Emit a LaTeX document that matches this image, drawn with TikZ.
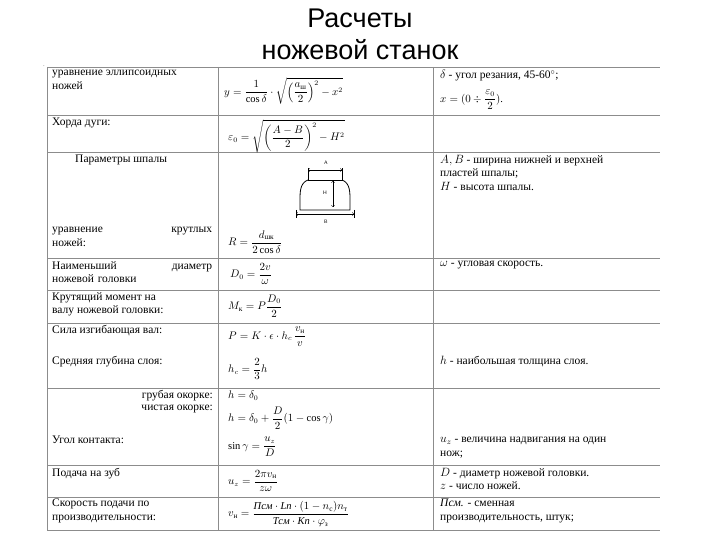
\documentclass[tikz,border=0pt]{standalone}
\usepackage{amsmath}
\usepackage{fontspec}
\setmainfont{Liberation Serif}
\newfontfamily\titlefont{Liberation Sans}
\begin{document}
\begin{tikzpicture}[x=1pt,y=-1pt,
  rule/.style={draw=black!45,line width=0.8pt},
  txt/.style={anchor=north west,inner sep=0pt,font=\fontsize{11.5}{13.5}\selectfont,align=left},
  fm/.style={anchor=west,inner sep=0pt,font=\fontsize{10.5}{12}\selectfont}]
\useasboundingbox (0,0) rectangle (720,540);
\node[font=\titlefont\fontsize{27}{32}\selectfont,align=center] (title) at (360,34) {Расчеты\\ножевой станок};
% grid
\foreach \y in {67,115,152,258,290,323,388,465,497,530} \draw[rule] (47,\y) -- (660,\y);
\foreach \x in {47,218,433} \draw[rule] (\x,67) -- (\x,530);
\node[font=\tiny] (mk) at (44,66) {.};
% row 1
\node[txt] (c11) at (52,70) {уравнение эллипсоидных\\ножей};
\node[fm] (f1) at (224,91) {$y=\dfrac{1}{\cos\delta}\cdot\sqrt{\left(\dfrac{a_{\text{ш}}}{2}\right)^{2}-x^{2}}$};
\node[txt] (c13) at (440,70) {$\delta$ - угол резания, 45-60$^\circ$;};
\node[fm] (c13b) at (440,100) {$x=(0\div\dfrac{\varepsilon_0}{2})$.};
% row 2
\node[txt] (c21) at (52,118) {Хорда дуги:};
\node[fm] (f2) at (228,136) {$\varepsilon_0=\sqrt{\left(\dfrac{A-B}{2}\right)^{2}-H^{2}}$};
% row 3
\node[txt] (c31) at (75,155) {Параметры шпалы};
\node[txt] (c33) at (440,155) {$A,B$ - ширина нижней и верхней\\пластей шпалы;\\$H$ - высота шпалы.};
\node[font=\sffamily\tiny] (lA) at (326,163) {A};
\draw[thick] (308,168) -- (308,180) -- (342,180) -- (342,168);
\draw[thin,<->] (308,170) -- (342,170);
\draw[thick] (308,180) to[out=200,in=90] (300,200) -- (300,210) -- (350,210) -- (350,200) to[out=90,in=-20] (342,180);
\draw[thin] (296,210) -- (296,218) (354,210) -- (354,218);
\draw[thin,<->] (296,214) -- (354,214);
\draw[thin,<->] (333,181) -- (333,207);
\node[font=\sffamily\tiny] (lH) at (325,193) {H};
\node[font=\sffamily\tiny] (lB) at (326,222) {B};
\node[txt,text width=160pt,align=justify] (c41) at (52,227) {уравнение \hfill крутлых\\ножей:};
\node[fm] (f4) at (228,242) {$R=\dfrac{d_{\text{шк}}}{2\cos\delta}$};
% row 5
\node[txt,text width=160pt] (c51) at (52,261) {Наименьший \hfill диаметр\\ножевой головки};
\node[fm] (f5) at (230,274) {$D_0=\dfrac{2v}{\omega}$};
\node[txt] (c53) at (440,261) {$\omega$ - угловая скорость.};
% row 6
\node[txt] (c61) at (52,292) {Крутящий момент на\\валу ножевой головки:};
\node[fm] (f6) at (228,306) {$M_{\text{к}}=P\dfrac{D_0}{2}$};
% row 7
\node[txt] (c71) at (52,325) {Сила изгибающая вал:};
\node[fm] (f7) at (228,337) {$P=K\cdot\epsilon\cdot h_c\,\dfrac{v_{\text{н}}}{v}$};
\node[txt] (c72) at (52,356) {Средняя глубина слоя:};
\node[fm] (f72) at (228,369) {$h_c=\dfrac{2}{3}h$};
\node[txt] (c73) at (440,356) {$h$ - наибольшая толщина слоя.};
% row 8
\node[txt,anchor=north east] (c81) at (213,390) {грубая окорке:};
\node[fm] (f81) at (228,396) {$h=\delta_0$};
\node[txt,anchor=north east] (c82) at (213,405) {чистая окорке:};
\node[fm] (f82) at (228,418) {$h=\delta_0+\dfrac{D}{2}(1-\cos\gamma)$};
\node[txt] (c83) at (52,436) {Угол контакта:};
\node[fm] (f83) at (228,447) {$\sin\gamma=\dfrac{u_z}{D}$};
\node[txt] (c84) at (440,437) {$u_z$ - величина надвигания на один\\нож;};
% row 9
\node[txt] (c91) at (52,468) {Подача на зуб};
\node[fm] (f9) at (228,481) {$u_z=\dfrac{2\pi v_{\text{н}}}{z\omega}$};
\node[txt] (c93) at (440,468) {$D$ - диаметр ножевой головки.\\$z$ - число ножей.};
% row 10
\node[txt] (c101) at (52,499) {Скорость подачи по\\производительности:};
\node[fm] (f10) at (228,514) {$v_{\text{н}}=\dfrac{\text{\itshape Псм}\cdot \text{\itshape Lп}\cdot(1-n_{\text{с}})n_{\text{т}}}{\text{\itshape Тсм}\cdot \text{\itshape Kп}\cdot \varphi_{\text{з}}}$};
\node[txt] (c103) at (440,499) {\textit{Псм.} - сменная\\производительность, штук;};
\end{tikzpicture}
\end{document}
